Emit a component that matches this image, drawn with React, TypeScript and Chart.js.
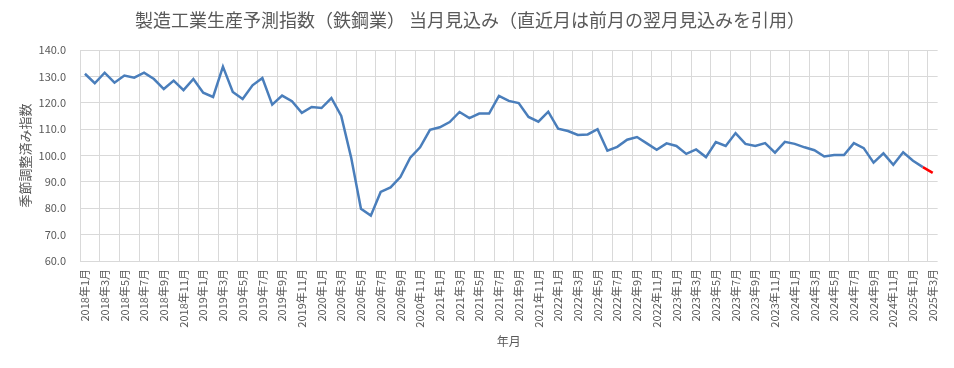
import React, { useEffect, useRef } from "react";
import { Chart, registerables } from "chart.js";

Chart.register(...registerables);

// ---- Data ----
const START_YEAR = 2018;
const END_YEAR = 2025;
const END_MONTH = 3;

const values2018 = [131.0, 127.4, 131.4, 127.6, 130.3, 129.5, 131.4, 129.0, 125.2, 128.4, 124.8, 129.0];
const values2019 = [123.8, 122.2, 133.7, 124.1, 121.4, 126.6, 129.4, 119.3, 122.7, 120.6, 116.2, 118.4];
const values2020 = [118.0, 121.8, 115.0, 99.3, 79.8, 77.2, 86.2, 87.9, 91.8, 99.2, 103.1, 109.7];
const values2021 = [110.7, 112.7, 116.5, 114.2, 115.9, 115.9, 122.6, 120.7, 119.9, 114.6, 112.8, 116.6];
const values2022 = [110.2, 109.3, 107.8, 108.0, 110.0, 101.8, 103.3, 106.0, 107.0, 104.6, 102.2, 104.6];
const values2023 = [103.6, 100.6, 102.3, 99.4, 105.1, 103.6, 108.5, 104.4, 103.6, 104.7, 101.1, 105.2];
const values2024 = [104.4, 103.1, 102.0, 99.6, 100.2, 100.2, 104.7, 102.8, 97.3, 100.8, 96.5, 101.2];
const values2025 = [98.0, 95.6, 93.4];

const categories: string[] = [];
for (let y = START_YEAR; y <= END_YEAR; y++) {
  const last = y === END_YEAR ? END_MONTH : 12;
  for (let m = 1; m <= last; m++) categories.push(`${y}年${m}月`);
}

const seriesValues = [
  ...values2018, ...values2019, ...values2020, ...values2021,
  ...values2022, ...values2023, ...values2024, ...values2025,
];

const FORECAST_FROM = "2025年2月";

const yTickMin = 60;
const yTickMax = 140;
const yTickStep = 10;

const TITLE = "製造工業生産予測指数（鉄鋼業） 当月見込み（直近月は前月の翌月見込みを引用）";
const X_TITLE = "年月";
const Y_TITLE = "季節調整済み指数";

const FONT = "'Noto Sans CJK JP', 'Noto Sans', sans-serif";
const GRAY_TEXT = "#595959";
const GRID = "#d9d9d9";

export default function App() {
  const ref = useRef<HTMLCanvasElement | null>(null);

  useEffect(() => {
    document.body.style.margin = "0";
    const canvas = ref.current;
    if (!canvas) return;
    const forecastIdx = categories.indexOf(FORECAST_FROM);
    const chart = new Chart(canvas, {
      type: "line",
      data: {
        labels: categories,
        datasets: [
          {
            data: seriesValues,
            borderColor: "#4A7EBB",
            borderWidth: 2.5,
            pointRadius: 0,
            pointHoverRadius: 0,
            tension: 0,
            fill: false,
            segment: {
              borderColor: (ctx: any) =>
                ctx.p0DataIndex >= forecastIdx ? "#FF0000" : undefined,
            },
          },
        ],
      },
      options: {
        responsive: false,
        animation: false,
        devicePixelRatio: 1,
        layout: { padding: { left: 0, right: 14, top: 0, bottom: 0 } },
        plugins: {
          legend: { display: false },
          tooltip: { enabled: false },
          title: {
            display: true,
            text: TITLE,
            color: GRAY_TEXT,
            font: { family: FONT, size: 18, weight: "normal", lineHeight: 1.2 },
            padding: { top: 9, bottom: 19.4 },
          },
        },
        scales: {
          x: {
            type: "category",
            offset: true,
            grid: {
              offset: true,
              drawTicks: false,
              color: (ctx: any) => (ctx.index % 2 === 0 ? GRID : "rgba(0,0,0,0)"),
              lineWidth: 1,
            },
            border: { display: false },
            ticks: {
              autoSkip: false,
              minRotation: 90,
              maxRotation: 90,
              padding: 8,
              color: GRAY_TEXT,
              font: { family: FONT, size: 11 },
              callback: (_v: any, i: number) => (i % 2 === 0 ? categories[i] : ""),
            },
            title: {
              display: true,
              text: X_TITLE,
              color: GRAY_TEXT,
              font: { family: FONT, size: 12 },
              padding: { top: 0, bottom: 19 },
            },
            afterFit: (s: any) => {
              s.height = 107;
            },
          },
          y: {
            min: yTickMin,
            max: yTickMax,
            grid: { color: GRID, drawTicks: false, lineWidth: 1 },
            border: { display: false },
            ticks: {
              stepSize: yTickStep,
              padding: 14,
              color: GRAY_TEXT,
              font: { family: FONT, size: 11 },
              callback: (v: any) => Number(v).toFixed(1),
            },
            title: {
              display: true,
              text: Y_TITLE,
              color: GRAY_TEXT,
              font: { family: FONT, size: 13 },
              padding: { top: 17, bottom: 0 },
            },
            afterFit: (s: any) => {
              s.width = 80;
            },
          },
        },
      },
    });
    return () => chart.destroy();
  }, []);

  return (
    <div style={{ width: 954, height: 368, background: "#fff" }}>
      <canvas ref={ref} width={954} height={368} style={{ display: "block" }} />
    </div>
  );
}
